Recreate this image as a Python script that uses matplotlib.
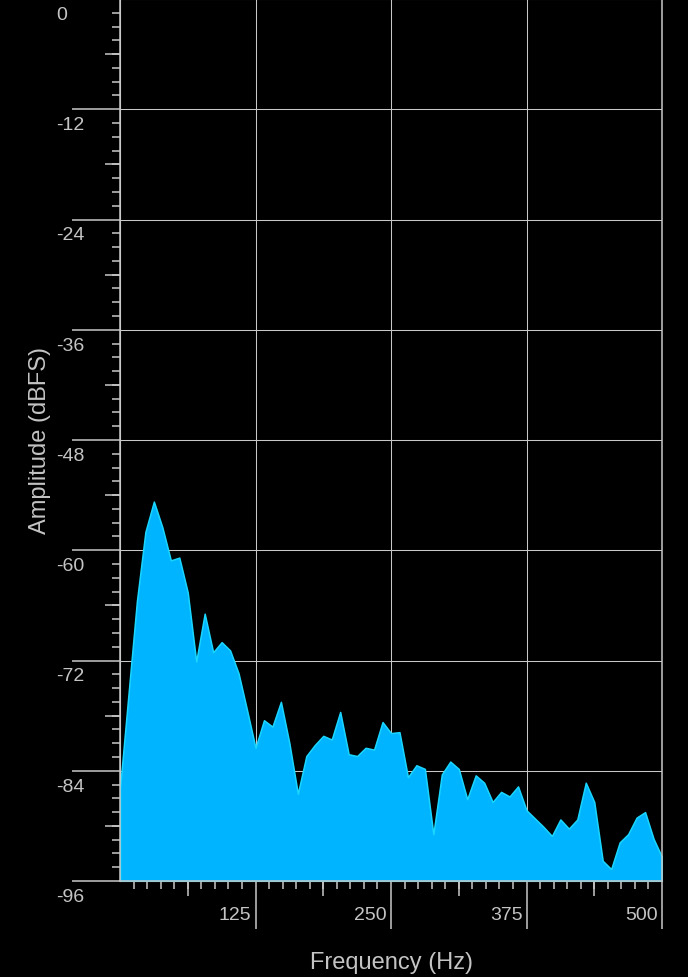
import numpy as np
import matplotlib
matplotlib.use("Agg")
import matplotlib.pyplot as plt
from matplotlib.ticker import FixedLocator, NullFormatter
from matplotlib.transforms import offset_copy

# spectrum, one value per FFT bin (bin width 7.8125 Hz)
BIN_HZ = 7.8125
amplitude_db = [
    -85.9, -75.7, -65.5, -58.0, -54.7, -57.5, -61.1, -60.8, -64.6, -72.1,
    -66.9, -71.1, -70.0, -70.9, -73.4, -77.4, -81.5, -78.5, -79.2, -76.5,
    -81.0, -86.5, -82.4, -81.2, -80.2, -80.6, -77.6, -82.2, -82.4, -81.5,
    -81.7, -78.7, -79.9, -79.8, -84.7, -83.4, -83.8, -90.9, -84.4, -83.0,
    -83.8, -87.1, -84.5, -85.3, -87.4, -86.3, -86.8, -85.7, -88.3, -89.2,
    -90.1, -91.1, -89.3, -90.3, -89.3, -85.3, -87.4, -93.8, -94.7, -91.8,
    -90.9, -89.1, -88.5, -91.4, -93.4,
]
freq_hz = np.arange(len(amplitude_db)) * BIN_HZ

y_major = [0, -12, -24, -36, -48, -60, -72, -84, -96]
y_mid = [-6, -18, -30, -42, -54, -66, -78, -90]
y_minor = list(np.arange(-96, 0.1, 1.5))
x_major = [125, 250, 375, 500]
x_mid = [62.5, 187.5, 312.5, 437.5]
x_minor = list(np.arange(12.5, 500, 12.5))

FILL = "#00b4ff"
EDGE = "#1ad6ff"
GRAY = "#c8c8c8"
TEXT = "#c4c4c4"

plt.rcParams['font.family'] = ['Liberation Sans', 'DejaVu Sans']

fig = plt.figure(figsize=(6.88, 9.78), dpi=100, facecolor="black")
ax = fig.add_axes([120 / 688, 96 / 978, 542 / 688, 882 / 978])
ax.set_facecolor("black")

ax.fill_between(freq_hz, amplitude_db, -96, facecolor=FILL, edgecolor=EDGE,
                linewidth=1.1, zorder=2)

ax.set_xlim(0, 500)
ax.set_ylim(-96, 0)

ax.xaxis.set_major_locator(FixedLocator(x_major))
ax.xaxis.set_minor_locator(FixedLocator(x_minor))
ax.yaxis.set_major_locator(FixedLocator(y_major))
ax.yaxis.set_minor_locator(FixedLocator(y_minor))
ax.xaxis.set_major_formatter(NullFormatter())
ax.yaxis.set_major_formatter(NullFormatter())
ax.tick_params(which="major", length=34.6, width=1.1, color=GRAY)
ax.tick_params(which="minor", length=5.8, width=1.1, color=GRAY)

ax.set_axisbelow(True)
ax.grid(True, which="major", color=GRAY, linewidth=0.75)
for sp in ax.spines.values():
    sp.set_color(GRAY)
    sp.set_linewidth(1.1)

# medium ticks at the half-way marks
sec_y = ax.secondary_yaxis("left")
sec_y.set_yticks(y_mid)
sec_y.set_yticklabels([])
sec_y.tick_params(length=10.8, width=1.1, color=GRAY)
sec_y.spines["left"].set_color(GRAY)
sec_x = ax.secondary_xaxis("bottom")
sec_x.set_xticks(x_mid)
sec_x.set_xticklabels([])
sec_x.tick_params(length=10.8, width=1.1, color=GRAY)
sec_x.spines["bottom"].set_color(GRAY)

# tick labels sit beside the long tick lines
ytrans = offset_copy(ax.get_yaxis_transform(), fig=fig, x=-64, y=-7, units="dots")
for v in y_major:
    ax.text(0, v, f"{v}", transform=ytrans, ha="left", va="top",
            color=TEXT, fontsize=14)
xtrans = offset_copy(ax.get_xaxis_transform(), fig=fig, x=-4, y=-25, units="dots")
for v in x_major:
    ax.text(v, 0, f"{v}", transform=xtrans, ha="right", va="top",
            color=TEXT, fontsize=14)

ax.set_xlabel("Frequency (Hz)", color=TEXT, fontsize=17, va="center")
ax.xaxis.set_label_coords(0.5, -0.092)
ax.set_ylabel("Amplitude (dBFS)", color=TEXT, fontsize=17, va="center")
ax.yaxis.set_label_coords(-0.148, 0.5)

fig.savefig("out.png", dpi=100, facecolor="black")
